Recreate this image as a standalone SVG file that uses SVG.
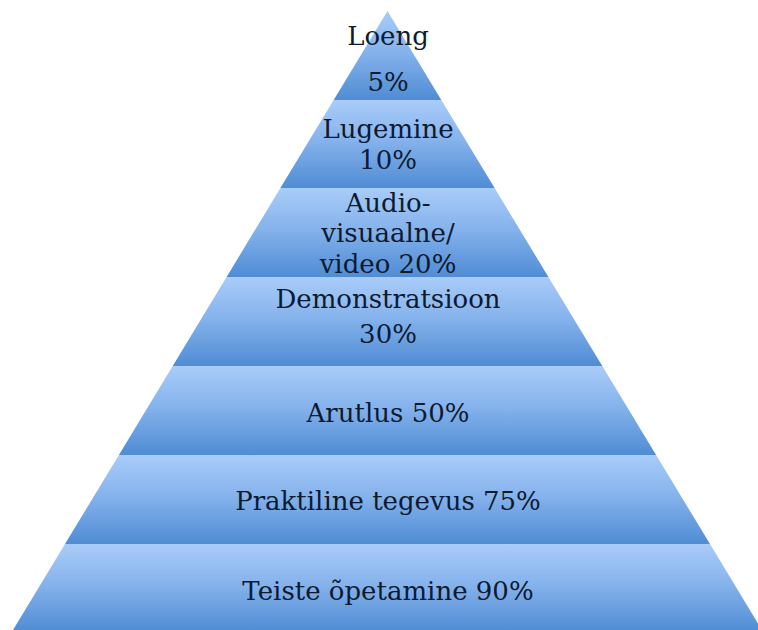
<svg xmlns="http://www.w3.org/2000/svg" width="758" height="630" viewBox="0 0 758 630">
<defs>
<linearGradient id="g" x1="0" y1="0" x2="0" y2="1">
<stop offset="0" stop-color="#a9ccf9"/>
<stop offset="0.45" stop-color="#86b3ec"/>
<stop offset="1" stop-color="#4f8cd4"/>
</linearGradient>
</defs>
<style>
.band{fill:url(#g);}
text{font-family:"DejaVu Serif","Liberation Serif",serif;font-size:26px;fill:#0d1a30;text-anchor:middle;}
</style>
<rect width="758" height="630" fill="#ffffff"/>
<g id="level1"><polygon class="band" points="387.5,11 441.3,100 333.7,100"/>
<text x="388" y="45">Loeng</text><text x="388" y="91">5%</text></g>
<g id="level2"><polygon class="band" points="333.7,100 441.3,100 494.6,188 280.4,188"/>
<text x="388" y="138">Lugemine</text><text x="388" y="169">10%</text></g>
<g id="level3"><polygon class="band" points="280.4,188 494.6,188 548.4,277 226.6,277"/>
<text x="388" y="212">Audio-</text><text x="388" y="242">visuaalne/</text><text x="388" y="273">video 20%</text></g>
<g id="level4"><polygon class="band" points="226.6,277 548.4,277 602.3,366 172.7,366"/>
<text x="388" y="308">Demonstratsioon</text><text x="388" y="343">30%</text></g>
<g id="level5"><polygon class="band" points="172.7,366 602.3,366 656.1,455 118.9,455"/>
<text x="388" y="422">Arutlus 50%</text></g>
<g id="level6"><polygon class="band" points="118.9,455 656.1,455 710,544 65,544"/>
<text x="388" y="510">Praktiline tegevus 75%</text></g>
<g id="level7"><polygon class="band" points="65,544 710,544 763.2,632 11.8,632"/>
<text x="388" y="600">Teiste õpetamine 90%</text></g>
</svg>
